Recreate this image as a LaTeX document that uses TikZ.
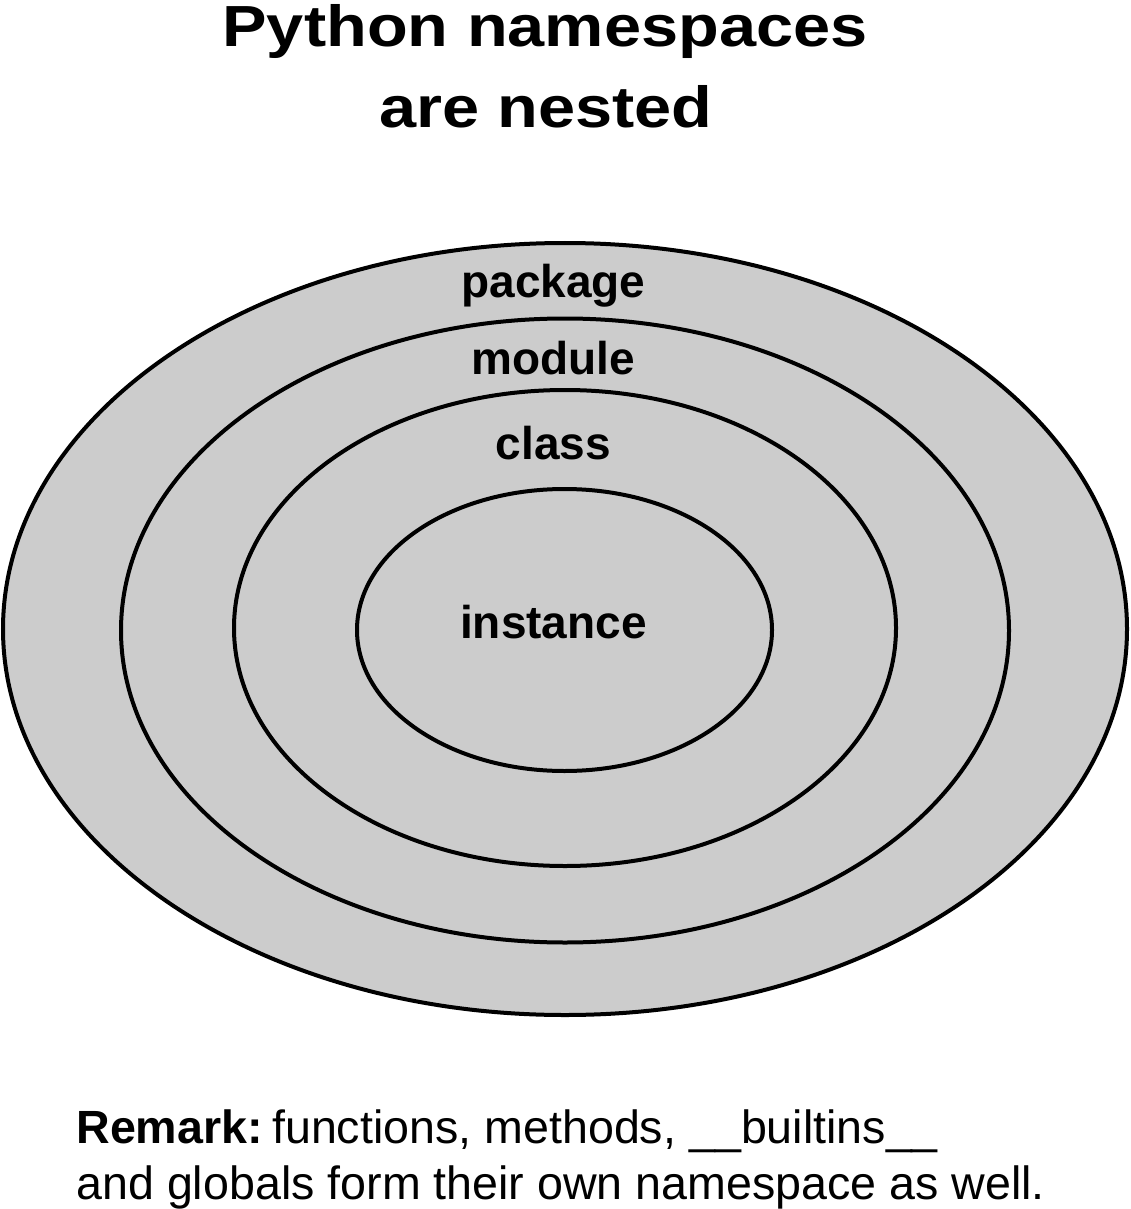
\documentclass[tikz,border=0pt]{standalone}
\usepackage{fontspec}
\setmainfont{Liberation Sans}
\usepackage{xcolor}
\definecolor{nsfill}{HTML}{CCCCCC}
\tikzset{nslabel/.style={anchor=base, inner sep=0, font=\fontsize{23}{27}\selectfont\bfseries},
 nstitle/.style={anchor=base, inner sep=0, font=\fontsize{29}{35}\selectfont\bfseries}}
\newcommand{\widetitle}[1]{\scalebox{1.15}[1]{#1}}

\begin{document}
\begin{tikzpicture}[x=0.5pt, y=-0.5pt]
\useasboundingbox (0,0) rectangle (1130,1209);
% title
\node[nstitle] (title1) at (545,47) {\widetitle{Python namespaces}};
\node[nstitle] (title2) at (546,128) {\widetitle{are nested}};
% nested ellipses, outermost first
\foreach \cx/\cy/\rx/\ry in {565/629/562/386, 565/630.5/444/312, 565/628/331/238, 564.5/630/207.5/141} {
 \filldraw[fill=nsfill, draw=black, line width=2pt] (\cx,\cy) ellipse [x radius=\rx, y radius=\ry];
}
\node[nslabel] (package) at (553.5,297) {package};
\node[nslabel] (module) at (553.5,374) {module};
\node[nslabel] (class) at (553.5,459) {class};
\node[nslabel] (instance) at (553.5,638) {instance};
% remark
\node[anchor=base west, inner sep=0, font=\fontsize{23.3}{28}\selectfont] (remark1) at (76,1143) {\textbf{Remark:}\hspace{0.2em}functions, methods, \_\_builtins\_\_};
\node[anchor=base west, inner sep=0, font=\fontsize{23.3}{28}\selectfont] (remark2) at (76,1199) {and globals form their own namespace as well.};
\end{tikzpicture}
\end{document}
